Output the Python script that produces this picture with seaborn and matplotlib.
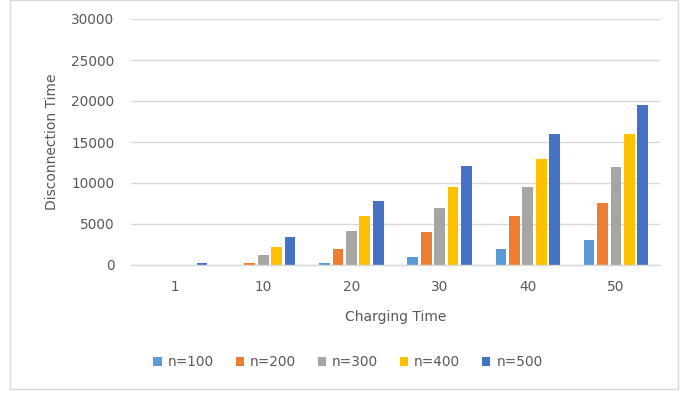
import matplotlib
matplotlib.use("Agg")
import matplotlib.pyplot as plt
from matplotlib.patches import Rectangle, Patch
import seaborn as sns
import pandas as pd

# Disconnection time per charging time, for each network size
charging_times = ["1", "10", "20", "30", "40", "50"]
series_names = ["n=100", "n=200", "n=300", "n=400", "n=500"]
n100 = [2, 20, 200, 1000, 2000, 3000]
n200 = [5, 200, 2000, 4000, 6000, 7600]
n300 = [10, 1200, 4100, 6900, 9500, 12000]
n400 = [20, 2200, 6000, 9500, 12900, 16000]
n500 = [200, 3400, 7800, 12100, 16000, 19500]

colors = ["#5B9BD5", "#ED7D31", "#A5A5A5", "#FFC000", "#4472C4"]

rows = []
for name, vals in zip(series_names, [n100, n200, n300, n400, n500]):
    for t, v in zip(charging_times, vals):
        rows.append({"Charging Time": t, "Disconnection Time": v, "series": name})
df = pd.DataFrame(rows)

sns.set_theme(style="white")
plt.rcParams["font.family"] = ["DejaVu Sans"]
text_color = "#595959"
grid_color = "#D9D9D9"

fig = plt.figure(figsize=(6.94, 3.94), dpi=100)
ax = fig.add_axes([131 / 694, 1 - 265 / 394, (660 - 131) / 694, (265 - 19) / 394])

sns.barplot(
    data=df, x="Charging Time", y="Disconnection Time", hue="series",
    order=charging_times, hue_order=series_names, palette=colors,
    width=0.76, gap=0.2, linewidth=0, saturation=1, legend=False, ax=ax,
)

ax.set_ylim(0, 30000)
ax.set_yticks(range(0, 30001, 5000))
ax.set_xlim(-0.5, len(charging_times) - 0.5)
ax.yaxis.grid(True, color=grid_color, linewidth=1.0)
ax.set_axisbelow(True)
for side in ["top", "right", "left"]:
    ax.spines[side].set_visible(False)
ax.spines["bottom"].set_color(grid_color)
ax.spines["bottom"].set_linewidth(1.0)
ax.tick_params(axis="both", length=0, labelsize=9.8, colors=text_color)
ax.tick_params(axis="y", pad=12)
ax.tick_params(axis="x", pad=11)

ax.set_xlabel("Charging Time", fontsize=10, color=text_color, labelpad=11)
ax.set_ylabel("Disconnection Time", fontsize=10, color=text_color, labelpad=9)

handles = [Patch(facecolor=c, edgecolor="none") for c in colors]
fig.legend(
    handles, series_names, loc="center", bbox_to_anchor=(348 / 694, 1 - 362 / 394),
    ncol=5, frameon=False, fontsize=9.8, labelcolor=text_color,
    handlelength=0.6, handleheight=0.6, handletextpad=0.45, columnspacing=1.6,
)

# light frame around the whole chart
fig.patches.append(Rectangle((9.5 / 694, 1 - 389 / 394), (678 - 9.5) / 694, 389 / 394,
                             transform=fig.transFigure, fill=False,
                             edgecolor=grid_color, linewidth=1.0))

fig.savefig("out.png", dpi=100)
